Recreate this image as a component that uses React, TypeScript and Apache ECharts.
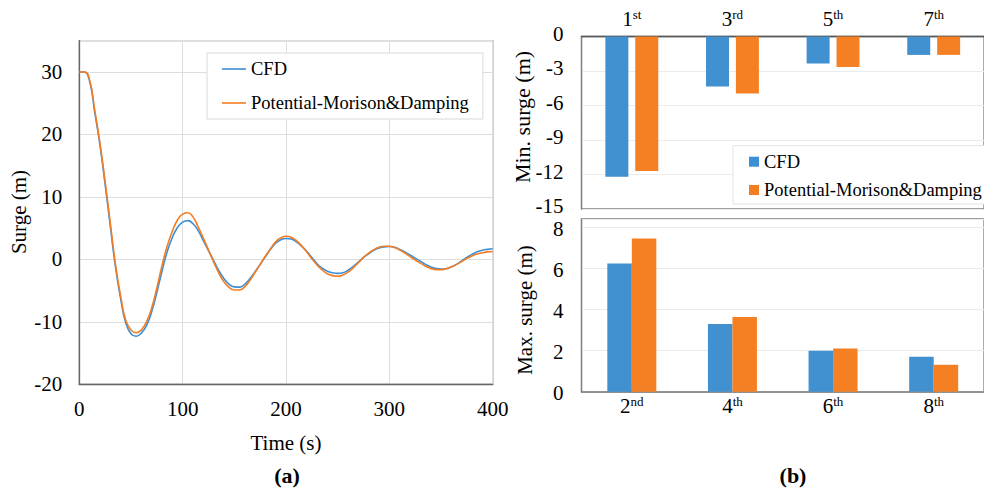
import React, { useEffect, useRef } from "react";
import * as echarts from "echarts";

const timeS = [0, 5, 10, 15, 20, 25, 30, 35, 40, 45, 50, 55, 60, 65, 70, 75, 80, 85, 90, 95, 100, 105, 110, 115, 120, 125, 130, 135, 140, 145, 150, 155, 160, 165, 170, 175, 180, 185, 190, 195, 200, 205, 210, 215, 220, 225, 230, 235, 240, 245, 250, 255, 260, 265, 270, 275, 280, 285, 290, 295, 300, 305, 310, 315, 320, 325, 330, 335, 340, 345, 350, 355, 360, 365, 370, 375, 380, 385, 390, 395, 400];

const surgeCFD = [30, 30, 28.5, 23.5, 18.3, 12.0, 5.3, -1.2, -6.3, -10.2, -11.9, -12.3, -11.8, -10.6, -8.4, -5.3, -1.9, 1.2, 3.5, 5.1, 5.95, 6.2, 5.7, 4.6, 3.0, 1.4, -0.2, -1.8, -3.1, -4.0, -4.4, -4.45, -4.0, -3.1, -2.0, -0.8, 0.4, 1.6, 2.6, 3.15, 3.35, 3.25, 2.8, 2.1, 1.3, 0.3, -0.7, -1.4, -1.9, -2.15, -2.25, -2.15, -1.75, -1.15, -0.45, 0.3, 0.9, 1.45, 1.8, 2.0, 2.05, 1.95, 1.6, 1.2, 0.7, 0.2, -0.3, -0.8, -1.2, -1.45, -1.55, -1.5, -1.2, -0.8, -0.25, 0.3, 0.8, 1.2, 1.45, 1.6, 1.7];

const surgePot = [30, 30, 28.7, 23.8, 18.6, 12.4, 5.8, -0.8, -5.9, -9.8, -11.3, -11.75, -11.3, -10.0, -7.8, -4.6, -1.0, 2.1, 4.5, 6.3, 7.25, 7.45, 6.8, 5.2, 3.4, 1.5, -0.4, -2.2, -3.6, -4.5, -4.9, -4.9, -4.4, -3.4, -2.1, -0.8, 0.5, 1.7, 2.8, 3.45, 3.7, 3.55, 3.0, 2.2, 1.2, 0.1, -0.9, -1.7, -2.3, -2.6, -2.7, -2.5, -2.05, -1.35, -0.55, 0.3, 1.0, 1.55, 1.95, 2.1, 2.1, 1.9, 1.5, 1.0, 0.45, -0.1, -0.6, -1.1, -1.45, -1.65, -1.65, -1.5, -1.2, -0.8, -0.35, 0.15, 0.55, 0.85, 1.05, 1.2, 1.25];

const minCats = ["1st", "3rd", "5th", "7th"];
const minCFD = [-12.2, -4.35, -2.35, -1.6];
const minPot = [-11.7, -4.95, -2.65, -1.6];

const maxCats = ["2nd", "4th", "6th", "8th"];
const maxCFD = [6.23, 3.29, 1.99, 1.7];
const maxPot = [7.45, 3.63, 2.1, 1.31];

const seriesNames = ["CFD", "Potential-Morison&Damping"];

const FONT = "'Liberation Serif', 'Times New Roman', serif";
const BLUE = "#3E8ED3";
const ORANGE = "#F47D22";
const BAR_BLUE = "#4190CF";
const BAR_ORANGE = "#F58024";
const FRAME = "#808080";
const GRID_LINE = "#dedede";

function ordinalLabel(v: string) {
  const m = v.match(/^(\d+)(\D+)$/);
  if (!m) return v;
  return `{n|${m[1]}}{s|${m[2]}}`;
}

const ordinalRich = {
  n: { fontSize: 21, fontFamily: FONT, color: "#000", lineHeight: 22 },
  s: { fontSize: 13, fontFamily: FONT, color: "#000", lineHeight: 22, verticalAlign: "top" },
};

export default function App() {
  const ref = useRef<HTMLDivElement>(null);
  useEffect(() => {
    if (!ref.current) return;
    const chart = echarts.init(ref.current, undefined, { renderer: "svg" });
    const tickLabel = { color: "#000", fontFamily: FONT, fontSize: 21 };
    const center = { align: "center", verticalAlign: "middle", textAlign: "center", textVerticalAlign: "middle" };
    const option: any = {
      animation: false,
      backgroundColor: "#fff",
      textStyle: { fontFamily: FONT },
      grid: [
        { left: 79.3, top: 40.7, width: 413.4, height: 343.6, show: true, borderColor: FRAME, borderWidth: 1.3, containLabel: false },
        { left: 581.5, top: 36.5, width: 414, height: 172.5, show: true, borderColor: FRAME, borderWidth: 1.3, containLabel: false },
        { left: 581.5, top: 219, width: 414, height: 172.7, show: true, borderColor: FRAME, borderWidth: 1.3, containLabel: false },
      ],
      xAxis: [
        {
          type: "value", gridIndex: 0, min: 0, max: 400, interval: 100,
          axisLine: { show: true, onZero: false, lineStyle: { color: "#666", width: 1.3 } },
          axisTick: { show: false },
          axisLabel: { ...tickLabel, margin: 14 },
          splitLine: { show: true, lineStyle: { color: GRID_LINE, width: 1 } },
        },
        {
          type: "category", gridIndex: 1, position: "top", data: minCats,
          axisLine: { show: true, onZero: false, lineStyle: { color: "#555", width: 1.3 } },
          axisTick: { show: false },
          axisLabel: { margin: 7, formatter: ordinalLabel, rich: ordinalRich },
          splitLine: { show: false },
        },
        {
          type: "category", gridIndex: 2, position: "bottom", data: maxCats,
          axisLine: { show: true, onZero: false, lineStyle: { color: "#777", width: 1.5 } },
          axisTick: { show: false },
          axisLabel: { margin: 3, formatter: ordinalLabel, rich: ordinalRich },
          splitLine: { show: false },
        },
      ],
      yAxis: [
        {
          type: "value", gridIndex: 0, min: -20, max: 35, interval: 10,
          axisLine: { show: true, onZero: false, lineStyle: { color: "#666", width: 1.3 } },
          axisTick: { show: false },
          axisLabel: { ...tickLabel, margin: 17, showMaxLabel: false },
          splitLine: { show: true, lineStyle: { color: GRID_LINE, width: 1 } },
        },
        {
          type: "value", gridIndex: 1, min: -15, max: 0, interval: 3,
          axisLine: { show: true, onZero: false, lineStyle: { color: FRAME, width: 1.3 } },
          axisTick: { show: false },
          axisLabel: {
            margin: 18,
            formatter: (v: number) => `{u|${v}}`,
            rich: { u: { ...tickLabel, lineHeight: 21, padding: [0, 0, 6, 0] } },
          },
          splitLine: { show: true, lineStyle: { color: "#ebebeb", width: 1 } },
        },
        {
          type: "value", gridIndex: 2, min: 0, max: 8.4, interval: 2,
          axisLine: { show: true, onZero: false, lineStyle: { color: FRAME, width: 1.3 } },
          axisTick: { show: false },
          axisLabel: {
            margin: 18, showMaxLabel: false,
            formatter: (v: number) => `{d|${v}}`,
            rich: { d: { ...tickLabel, lineHeight: 21, padding: [3, 0, 0, 0] } },
          },
          splitLine: { show: true, lineStyle: { color: "#ebebeb", width: 1 } },
        },
      ],
      legend: [
        {
          data: seriesNames,
          left: 207, top: 53, orient: "vertical",
          icon: "rect", itemWidth: 24, itemHeight: 1.6, itemGap: 14,
          padding: [6, 14, 6, 15],
          backgroundColor: "#fff", borderColor: "#d9d9d9", borderWidth: 1,
          selectedMode: false,
          textStyle: { fontFamily: FONT, fontSize: 18.5, color: "#000", lineHeight: 20 },
        },
        {
          data: seriesNames,
          left: 733, top: 145.7, orient: "vertical",
          icon: "rect", itemWidth: 10, itemHeight: 10, itemGap: 8.3,
          padding: [6, 8, 4, 16],
          backgroundColor: "#fff", borderColor: "#e3e3e3", borderWidth: 1,
          selectedMode: false,
          textStyle: { fontFamily: FONT, fontSize: 18.5, color: "#000", lineHeight: 20 },
        },
      ],
      series: [
        {
          name: seriesNames[0], type: "line", xAxisIndex: 0, yAxisIndex: 0,
          data: timeS.map((t, i) => [t, surgeCFD[i]]),
          showSymbol: false, smooth: 0.5, color: BLUE,
          lineStyle: { width: 1.6, color: BLUE },
        },
        {
          name: seriesNames[1], type: "line", xAxisIndex: 0, yAxisIndex: 0,
          data: timeS.map((t, i) => [t, surgePot[i]]),
          showSymbol: false, smooth: 0.5, color: ORANGE,
          lineStyle: { width: 1.6, color: ORANGE },
        },
        {
          name: seriesNames[0], type: "bar", xAxisIndex: 1, yAxisIndex: 1,
          data: minCFD, barWidth: 23, barGap: "30%", color: BAR_BLUE,
          itemStyle: { color: BAR_BLUE },
        },
        {
          name: seriesNames[1], type: "bar", xAxisIndex: 1, yAxisIndex: 1,
          data: minPot, barWidth: 23, barGap: "30%", color: BAR_ORANGE,
          itemStyle: { color: BAR_ORANGE },
        },
        {
          name: seriesNames[0], type: "bar", xAxisIndex: 2, yAxisIndex: 2,
          data: maxCFD, barWidth: 24.5, barGap: "0%", color: BAR_BLUE,
          itemStyle: { color: BAR_BLUE },
        },
        {
          name: seriesNames[1], type: "bar", xAxisIndex: 2, yAxisIndex: 2,
          data: maxPot, barWidth: 24.5, barGap: "0%", color: BAR_ORANGE,
          itemStyle: { color: BAR_ORANGE },
        },
      ],
      graphic: [
        {
          type: "text", x: 19, y: 212, rotation: Math.PI / 2,
          style: { text: "Surge (m)", fontFamily: FONT, fontSize: 21, fill: "#000", ...center },
        },
        {
          type: "text", x: 286, y: 443,
          style: { text: "Time (s)", fontFamily: FONT, fontSize: 21, fill: "#000", ...center },
        },
        {
          type: "text", x: 287, y: 475,
          style: { text: "(a)", fontFamily: FONT, fontSize: 22, fontWeight: "bold", fill: "#000", ...center },
        },
        {
          type: "text", x: 522, y: 117, rotation: Math.PI / 2,
          style: { text: "Min. surge (m)", fontFamily: FONT, fontSize: 22, fill: "#000", ...center },
        },
        {
          type: "text", x: 525, y: 310, rotation: Math.PI / 2,
          style: { text: "Max. surge (m)", fontFamily: FONT, fontSize: 21, fill: "#000", ...center },
        },
        {
          type: "text", x: 793, y: 475,
          style: { text: "(b)", fontFamily: FONT, fontSize: 22, fontWeight: "bold", fill: "#000", ...center },
        },
      ],
    };
    chart.setOption(option);
    return () => chart.dispose();
  }, []);
  return (
    <div
      ref={ref}
      style={{ position: "fixed", left: 0, top: 0, width: 984, height: 492, background: "#fff" }}
    />
  );
}
